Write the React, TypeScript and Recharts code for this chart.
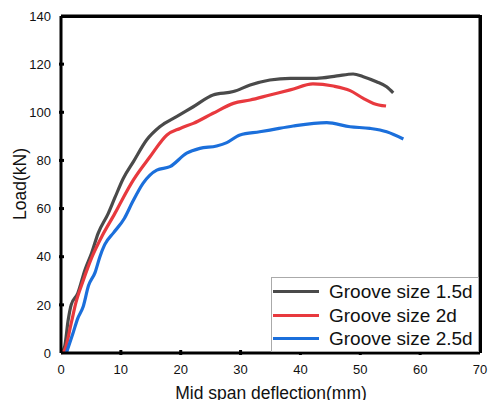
import React from 'react';
import { LineChart, Line, XAxis, YAxis, CartesianGrid } from 'recharts';

// deflection (mm) / load (kN)
const g15X = [0, 0.6, 1.2, 1.7, 2.8, 4.0, 5.1, 6.2, 7.9, 9.0, 10.4, 12.1, 14.3, 16.5, 19.3, 22.1, 25.4, 28.8, 31.6, 34.9, 38.3, 42.7, 46.1, 48.8, 50.5, 52.7, 54.4, 55.5];
const g15Y = [0, 2.6, 13.7, 20, 24.8, 34.5, 41.4, 49.7, 58, 64.5, 72.5, 79.5, 88.5, 94, 98.2, 102.3, 107.2, 108.6, 111.3, 113.4, 114.1, 114.1, 115.1, 115.9, 114.8, 112.7, 110.6, 108.1];

const g2X = [0, 0.6, 1.7, 2.5, 3.7, 5.2, 6.8, 9.0, 10.2, 12.1, 14.9, 17.7, 19.9, 22.1, 25.4, 28.8, 31.6, 34.9, 38.3, 42.1, 45.5, 48.3, 50.5, 52.2, 54.3];
const g2Y = [0, 1.2, 12.3, 21, 30, 40, 48.3, 58, 63.6, 71.9, 81.6, 90.6, 93.3, 95.4, 99.6, 103.7, 105.1, 107.2, 109.3, 111.8, 110.9, 109, 105.8, 103.7, 102.6];

const g25X = [0.9, 2.0, 2.8, 3.7, 4.6, 5.7, 6.5, 7.3, 8.8, 10.6, 11.9, 13.7, 16.0, 18.2, 21.0, 23.2, 26.0, 27.7, 29.9, 33.2, 34.9, 38.8, 44.4, 48.3, 51.6, 54.4, 57.2];
const g25Y = [0, 8.2, 14.4, 19.2, 28, 33.5, 40, 45, 50, 56, 62.5, 70.5, 76, 77.4, 83, 85, 86, 87.4, 90.6, 91.9, 92.6, 94.3, 95.7, 94, 93.3, 91.9, 88.9];

const xTicks = [0, 10, 20, 30, 40, 50, 60, 70];
const yTicks = [0, 20, 40, 60, 80, 100, 120, 140];

const seriesNames = ['Groove size 1.5d', 'Groove size 2d', 'Groove size 2.5d'];
const seriesColors = ['#4a4a4a', '#e8393e', '#1b6fdb'];

const toPoints = (xs: number[], ys: number[]) => xs.map((x, i) => ({ x, y: ys[i] }));
const series = [toPoints(g15X, g15Y), toPoints(g2X, g2Y), toPoints(g25X, g25Y)];

const FONT = 'Liberation Sans, Arial, sans-serif';
const frame = { stroke: '#000', strokeWidth: 3 };

const XTick = (props: any) => {
  const { x, y, payload } = props;
  const v = payload.value;
  return (
    <g>
      {v !== 0 && v !== 70 && <line x1={x} x2={x} y1={y} y2={y - 5} stroke="#000" strokeWidth={3} />}
      <text x={x} y={y + 19} textAnchor="middle" fontSize={13} fontFamily={FONT} fill="#111">
        {v}
      </text>
    </g>
  );
};

const YTick = (props: any) => {
  const { x, y, payload } = props;
  const v = payload.value;
  return (
    <g>
      {v !== 0 && v !== 140 && <line x1={x} x2={x + 5} y1={y} y2={y} stroke="#000" strokeWidth={3} />}
      <text x={x - 8} y={y} dy="0.36em" textAnchor="end" fontSize={13} fontFamily={FONT} fill="#111">
        {v}
      </text>
    </g>
  );
};

const LegendBox = () => (
  <div
    style={{
      position: 'absolute',
      left: 271,
      top: 277,
      width: 208,
      height: 75,
      border: '1px solid #aaa',
      background: '#fff',
      boxSizing: 'border-box',
      paddingTop: 2,
      fontFamily: FONT,
    }}
  >
    {seriesNames.map((name, i) => (
      <div key={name} style={{ display: 'flex', alignItems: 'center', height: 23.5 }}>
        <div style={{ width: 46, height: 3, background: seriesColors[i], marginLeft: 1, marginRight: 10 }} />
        <span style={{ fontSize: 19, color: '#111', lineHeight: '23px' }}>{name}</span>
      </div>
    ))}
  </div>
);

const App: React.FC = () => {
  return (
    <div style={{ position: 'absolute', left: 0, top: 0, width: 488, height: 400, background: '#fff', overflow: 'hidden' }}>
      <LineChart width={488} height={400} margin={{ top: 16, right: 8, bottom: 0, left: 0 }}>
        {/* top and right edges of the plot box */}
        <CartesianGrid
          horizontalValues={[140]}
          verticalValues={[70]}
          stroke="#000"
          strokeWidth={3}
          fill="none"
        />
        <XAxis
          type="number"
          dataKey="x"
          domain={[0, 70]}
          ticks={xTicks}
          allowDataOverflow
          height={47}
          tickSize={0}
          tickLine={false}
          tick={<XTick />}
          axisLine={frame}
        />
        <YAxis
          type="number"
          dataKey="y"
          domain={[0, 140]}
          ticks={yTicks}
          width={61}
          tickSize={0}
          tickLine={false}
          tick={<YTick />}
          axisLine={frame}
        />
        {series.map((data, i) => (
          <Line
            key={seriesNames[i]}
            data={data}
            dataKey="y"
            name={seriesNames[i]}
            type="monotone"
            stroke={seriesColors[i]}
            strokeWidth={3.2}
            dot={false}
            isAnimationActive={false}
          />
        ))}
      </LineChart>
      <LegendBox />
      <div
        style={{
          position: 'absolute',
          left: 61,
          top: 14.5,
          width: 420.5,
          height: 338.5,
          borderTop: '3px solid #000',
          borderRight: '3px solid #000',
          boxSizing: 'border-box',
          pointerEvents: 'none',
        }}
      />
      <div
        style={{
          position: 'absolute',
          left: 20,
          top: 184,
          transform: 'translate(-50%, -50%) rotate(-90deg)',
          fontFamily: FONT,
          fontSize: 17.5,
          color: '#111',
          whiteSpace: 'nowrap',
        }}
      >
        Load(kN)
      </div>
      <div
        style={{
          position: 'absolute',
          left: 271,
          top: 383,
          transform: 'translateX(-50%)',
          fontFamily: FONT,
          fontSize: 17.5,
          color: '#111',
          whiteSpace: 'nowrap',
          lineHeight: '20px',
        }}
      >
        Mid span deflection(mm)
      </div>
    </div>
  );
};

export default App;
